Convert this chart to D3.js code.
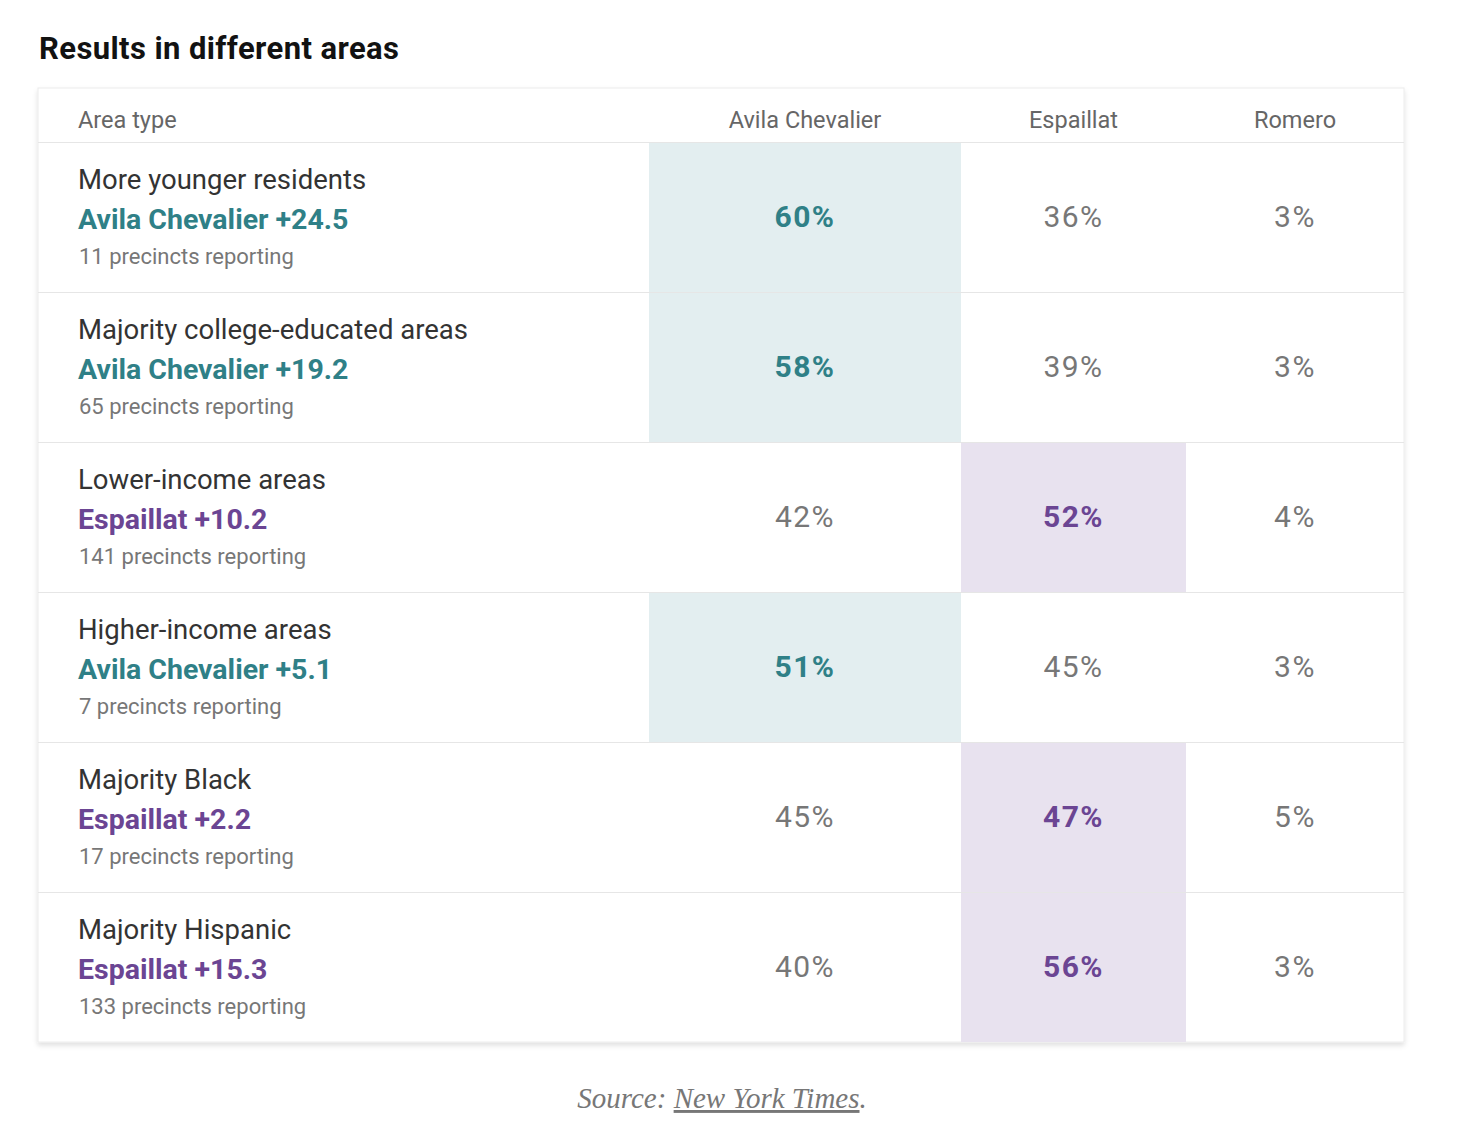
<!DOCTYPE html>
<html>
<head>
<meta charset="utf-8">
<script src="https://cdn.jsdelivr.net/npm/d3@7"></script>
<style>
  body { margin: 0; background: #fff; }
  svg { display: block; }
</style>
</head>
<body>
<svg id="chart"></svg>
<script>
// data
var areaTypes = [
  "More younger residents",
  "Majority college-educated areas",
  "Lower-income areas",
  "Higher-income areas",
  "Majority Black",
  "Majority Hispanic"
];
var candidates = ["Avila Chevalier", "Espaillat", "Romero"];
var avilaShare = [60, 58, 42, 51, 45, 40];
var espaillatShare = [36, 39, 52, 45, 47, 56];
var romeroShare = [3, 3, 4, 3, 5, 3];
var leadMargins = [24.5, 19.2, 10.2, 5.1, 2.2, 15.3];
var precincts = [11, 65, 141, 7, 17, 133];

var shares = [avilaShare, espaillatShare, romeroShare];

var width = 1470, height = 1144;
var fontSans = "'Roboto', 'Liberation Sans', sans-serif";
var colors = {
  "Avila Chevalier": { text: "#2f8087", bg: "#e3eef0" },
  "Espaillat": { text: "#6b4593", bg: "#e8e2ef" }
};

var table = { left: 38, right: 1404, top: 88, headerH: 54, bottom: 1042 };
// column boundaries: area label | Avila | Espaillat | Romero
var colEdges = [table.left, 649, 961, 1186, table.right];

var svg = d3.select("#chart").attr("width", width).attr("height", height);

var defs = svg.append("defs");
var shadow = defs.append("filter").attr("id", "shadow")
  .attr("x", "-5%").attr("y", "-5%").attr("width", "110%").attr("height", "110%");
shadow.append("feDropShadow")
  .attr("dx", 0).attr("dy", 3).attr("stdDeviation", 2.5)
  .attr("flood-color", "#000").attr("flood-opacity", 0.12);

svg.append("text")
  .attr("x", 39).attr("y", 59)
  .style("font-family", fontSans).style("font-weight", 700)
  .style("font-size", "31px").style("letter-spacing", "0.4px").attr("fill", "#121212")
  .text("Results in different areas");

// scales
var yScale = d3.scaleBand()
  .domain(areaTypes)
  .range([table.top + table.headerH, table.bottom]);

var colScale = d3.scaleOrdinal()
  .domain(candidates)
  .range(candidates.map(function (c, i) { return colEdges[i + 1]; }));
function colWidth(c) { return colEdges[candidates.indexOf(c) + 2] - colScale(c); }
function colCenter(c) { return colScale(c) + colWidth(c) / 2; }

// card
svg.append("rect")
  .attr("x", table.left).attr("y", table.top)
  .attr("width", table.right - table.left)
  .attr("height", table.bottom - table.top)
  .attr("fill", "#fff").attr("stroke", "#ececec").attr("stroke-width", 1)
  .attr("filter", "url(#shadow)");

// build rows
var rows = areaTypes.map(function (a, i) {
  var vals = candidates.map(function (c, j) { return { cand: c, value: shares[j][i] }; });
  var winner = vals.reduce(function (m, v) { return v.value > m.value ? v : m; });
  return { area: a, vals: vals, winner: winner.cand, margin: leadMargins[i], precincts: precincts[i] };
});

// winner highlight cells
svg.append("g").selectAll("rect")
  .data(rows)
  .join("rect")
  .attr("x", function (d) { return colScale(d.winner); })
  .attr("y", function (d) { return yScale(d.area); })
  .attr("width", function (d) { return colWidth(d.winner); })
  .attr("height", yScale.bandwidth())
  .attr("fill", function (d) { return colors[d.winner].bg; });

// row dividers
svg.append("g").selectAll("line")
  .data(areaTypes)
  .join("line")
  .attr("x1", table.left).attr("x2", table.right)
  .attr("y1", function (d) { return yScale(d) + 0.5; })
  .attr("y2", function (d) { return yScale(d) + 0.5; })
  .attr("stroke", "#e6e6e6").attr("stroke-width", 1.2);

// header
var header = svg.append("g").style("font-family", fontSans)
  .style("font-size", "23.5px").attr("fill", "#666");
header.append("text")
  .attr("x", 78).attr("y", 128)
  .text("Area type");
header.selectAll("text.cand")
  .data(candidates)
  .join("text")
  .attr("class", "cand")
  .attr("x", function (d) { return colCenter(d); })
  .attr("y", 128)
  .attr("text-anchor", "middle")
  .text(function (d) { return d; });

// row contents
var rowG = svg.append("g").selectAll("g")
  .data(rows)
  .join("g")
  .attr("transform", function (d) { return "translate(0," + yScale(d.area) + ")"; })
  .style("font-family", fontSans);

rowG.append("text")
  .attr("x", 78).attr("y", 47)
  .style("font-size", "27.5px").attr("fill", "#333")
  .text(function (d) { return d.area; });

rowG.append("text")
  .attr("x", 78).attr("y", 87)
  .style("font-size", "28.5px").style("font-weight", 700)
  .attr("fill", function (d) { return colors[d.winner].text; })
  .text(function (d) { return d.winner + " +" + d.margin.toFixed(1); });

rowG.append("text")
  .attr("x", 79).attr("y", 122)
  .style("font-size", "22px").attr("fill", "#777")
  .text(function (d) { return d.precincts + " precincts reporting"; });

rowG.selectAll("text.pct")
  .data(function (d) { return d.vals.map(function (v) { return { cand: v.cand, value: v.value, win: v.cand === d.winner }; }); })
  .join("text")
  .attr("class", "pct")
  .attr("x", function (d) { return colCenter(d.cand); })
  .attr("y", 85)
  .attr("text-anchor", "middle")
  .style("font-size", "30px").style("letter-spacing", "1.5px")
  .style("font-weight", function (d) { return d.win ? 700 : 400; })
  .attr("fill", function (d) { return d.win ? colors[d.cand].text : "#777"; })
  .text(function (d) { return d.value + "%"; });

// source
var src = svg.append("text")
  .attr("x", 722).attr("y", 1108)
  .attr("text-anchor", "middle")
  .style("font-family", "'Liberation Serif', 'DejaVu Serif', serif")
  .style("font-style", "italic").style("font-size", "29px")
  .attr("fill", "#777");
src.append("tspan").text("Source: ");
src.append("tspan").style("text-decoration", "underline").text("New York Times");
src.append("tspan").text(".");
</script>
</body>
</html>
